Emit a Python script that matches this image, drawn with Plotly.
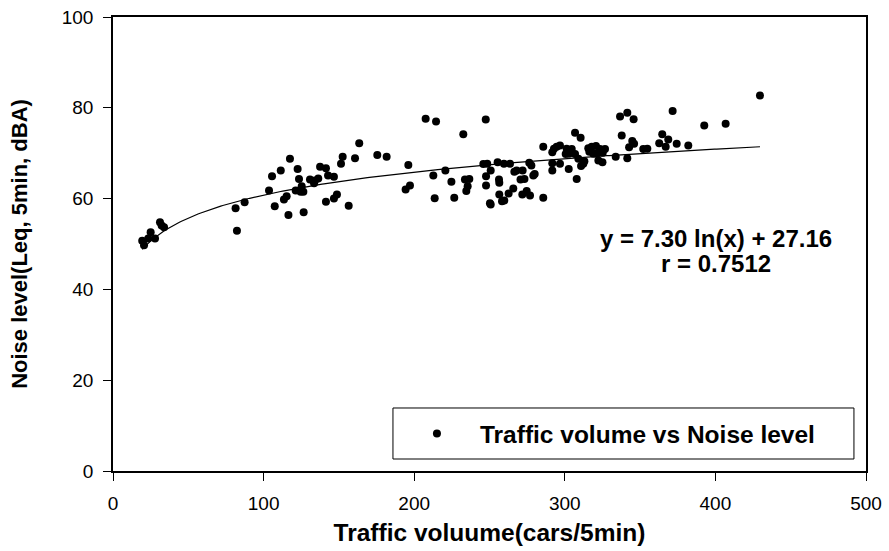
import numpy as np
import plotly.graph_objects as go

# Observed data: traffic volume (cars/5min) vs noise level (Leq, 5min, dBA)
traffic = [
    19.4, 20.6, 23.4, 25.0, 27.9, 31.2, 32.3, 33.9,
    81.4, 82.3, 87.4, 103.6, 105.6, 107.4, 111.4, 113.5, 115.3, 116.5, 117.5,
    121.3, 122.6, 123.5, 125.3, 126.4, 124.6, 126.6,
    130.8, 134.1, 136.3, 133.5, 137.5, 141.4, 142.8, 146.7, 151.4, 152.5, 160.7,
    163.5, 175.5, 181.7, 141.4, 146.7, 148.7, 156.5,
    194.3, 196.1, 197.2,
    207.6, 214.5, 232.6, 247.5,
    212.7, 213.6, 220.7, 224.7, 226.6, 233.7, 236.6, 235.5, 234.6,
    245.9, 248.5, 250.8, 247.7, 247.7, 250.3, 250.8,
    255.4, 259.6, 263.6, 256.3, 256.5, 256.5, 258.3, 259.8, 262.7, 265.8,
    266.5, 268.0, 272.0, 270.6, 273.2, 271.8, 274.7, 276.9, 276.4, 277.8,
    279.1, 280.0, 285.7, 285.7,
    306.8, 310.5, 291.7, 292.8, 294.6, 296.8, 301.2, 304.6, 302.8, 306.8, 300.6,
    309.0, 312.3, 310.8, 291.7, 296.8, 291.7, 302.6, 307.9,
    315.6, 317.9, 320.7, 316.3, 319.0, 321.2, 323.4, 326.7, 325.2, 313.0, 322.3, 325.0,
    333.8, 341.5, 336.7, 341.5, 345.7, 337.8, 344.8, 346.0, 342.7, 352.1, 354.8,
    362.7, 364.7, 368.7, 367.0, 374.3, 371.6, 382.0, 392.6, 406.8, 429.6,
]
noise = [
    50.7, 49.7, 51.2, 52.6, 51.2, 54.8, 54.1, 53.7,
    57.9, 52.9, 59.2, 61.8, 64.9, 58.3, 66.2, 59.8, 60.5, 56.4, 68.8,
    61.8, 66.5, 64.3, 62.7, 61.5, 61.5, 57.0,
    64.2, 64.0, 64.4, 63.4, 67.0, 66.7, 65.1, 64.8, 67.7, 69.2, 68.9,
    72.2, 69.6, 69.2, 59.3, 60.0, 60.9, 58.4,
    62.0, 67.4, 62.9,
    77.6, 77.0, 74.2, 77.4,
    65.1, 60.1, 66.2, 63.7, 60.2, 64.2, 64.3, 62.7, 61.7,
    67.6, 67.7, 66.2, 64.9, 62.9, 59.0, 58.7,
    68.0, 67.7, 67.7, 64.2, 63.5, 60.9, 59.4, 59.6, 61.1, 62.2,
    65.9, 66.2, 66.2, 64.2, 64.3, 60.9, 61.7, 60.7, 67.9, 67.3,
    65.1, 65.4, 60.2, 71.4,
    74.5, 73.4, 70.2, 71.0, 71.4, 71.7, 71.0, 70.9, 69.9, 69.8, 69.8,
    68.8, 67.7, 67.2, 67.8, 67.7, 66.2, 66.5, 64.3,
    71.1, 71.4, 71.6, 70.3, 69.9, 69.9, 70.9, 70.9, 70.1, 68.2, 68.4, 68.0,
    69.2, 68.9, 78.1, 78.9, 77.5, 73.9, 72.7, 72.1, 71.3, 70.9, 71.0,
    72.2, 74.2, 73.0, 71.4, 72.1, 79.3, 71.7, 76.1, 76.5, 82.7,
]

# Fitted logarithmic model shown on the chart
fit_a = 7.30
fit_b = 27.16
fit_xmin = 19.4
fit_xmax = 429.6
eq_lines = ["y = 7.30 ln(x) + 27.16", "r = 0.7512"]

x_ticks = [0, 100, 200, 300, 400, 500]
y_ticks = [0, 20, 40, 60, 80, 100]

FONT = "Arial, Liberation Sans, sans-serif"

fx = np.linspace(fit_xmin, fit_xmax, 300)
fy = fit_a * np.log(fx) + fit_b

fig = go.Figure()
fig.add_trace(go.Scatter(
    x=fx, y=fy, mode="lines", line=dict(color="black", width=1.2),
    showlegend=False, hoverinfo="skip"))
fig.add_trace(go.Scatter(
    x=traffic, y=noise, mode="markers", name="Traffic volume vs Noise level",
    marker=dict(color="black", size=8, line=dict(width=0))))

axis_common = dict(
    showline=True, linecolor="black", linewidth=1.5, mirror=True,
    ticks="outside", ticklen=8, tickwidth=1.3, tickcolor="black",
    showgrid=False, zeroline=False,
    tickfont=dict(family=FONT, size=19, color="black"),
)

fig.update_xaxes(
    range=[0, 500], tickvals=x_ticks, ticktext=[str(v) for v in x_ticks],
    title=dict(text="Traffic voluume(cars/5min)", standoff=11,
               font=dict(family=FONT, size=24.5, color="black", weight="bold")),
    ticklabelstandoff=6,
    **axis_common)
fig.update_yaxes(
    range=[0, 100], tickvals=y_ticks, ticktext=[str(v) for v in y_ticks],
    title=dict(text="Noise level(Leq, 5min, dBA)", standoff=28,
               font=dict(family=FONT, size=22, color="black", weight="bold")),
    ticklabelstandoff=6,
    **axis_common)

fig.add_annotation(x=400.5, y=51.3, xref="x", yref="y", text=eq_lines[0],
                   showarrow=False, xanchor="center", yanchor="middle",
                   font=dict(family=FONT, size=24, color="black", weight="bold"))
fig.add_annotation(x=400.5, y=45.7, xref="x", yref="y", text=eq_lines[1],
                   showarrow=False, xanchor="center", yanchor="middle",
                   font=dict(family=FONT, size=24, color="black", weight="bold"))

# legend frame
fig.add_shape(type="rect", xref="paper", yref="paper",
              x0=0.3718, x1=0.984, y0=0.0264, y1=0.1388,
              line=dict(color="black", width=1), fillcolor="white", layer="below")

fig.update_layout(
    width=889, height=551,
    margin=dict(l=113, r=23, t=17, b=80, autoexpand=False),
    paper_bgcolor="white", plot_bgcolor="white",
    showlegend=True,
    legend=dict(x=0.3731, y=0.0826, xanchor="left", yanchor="middle",
                bgcolor="rgba(0,0,0,0)", borderwidth=0, itemwidth=76,
                font=dict(family=FONT, size=24.5, color="black", weight="bold")),
)

fig.write_html("out.html")
